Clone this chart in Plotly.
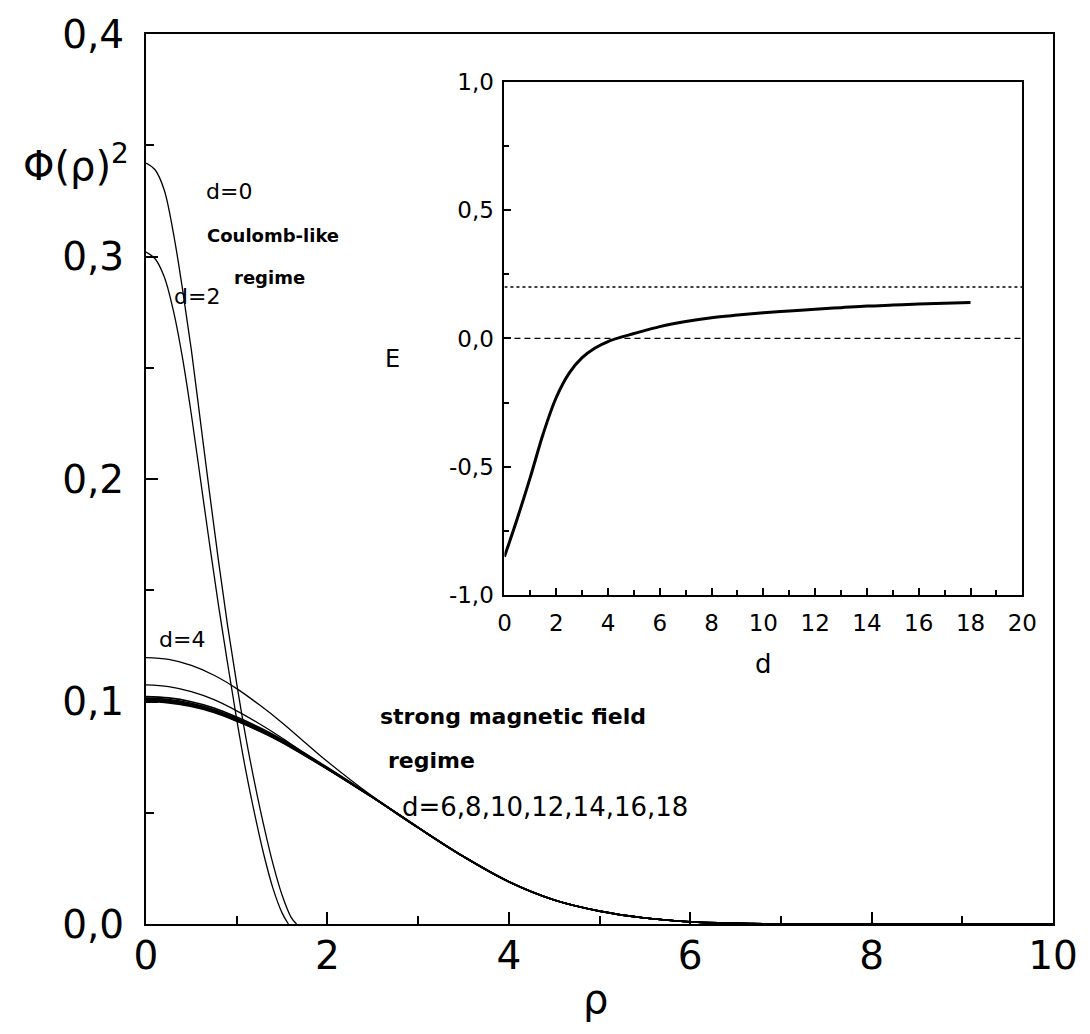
import plotly.graph_objects as go

# ---------------- data ----------------
# Coulomb-like regime curves
rho_d0 = [0, 0.1, 0.2, 0.3, 0.4, 0.5, 0.6, 0.7, 0.8, 0.9, 1.0, 1.1, 1.2, 1.3, 1.4, 1.5, 1.6, 1.66]
phi_d0 = [0.342, 0.339, 0.330, 0.311, 0.286, 0.258, 0.226, 0.194, 0.163, 0.134, 0.108, 0.084, 0.063, 0.044, 0.027, 0.013, 0.003, 0.0]

rho_d2 = [0, 0.1, 0.2, 0.3, 0.4, 0.5, 0.6, 0.7, 0.8, 0.9, 1.0, 1.1, 1.2, 1.3, 1.4, 1.5, 1.57]
phi_d2 = [0.302, 0.299, 0.291, 0.276, 0.255, 0.229, 0.200, 0.171, 0.143, 0.117, 0.092, 0.069, 0.049, 0.031, 0.016, 0.005, 0.0]

# strong magnetic field regime curves
rho_s = [0, 0.25, 0.5, 0.75, 1.0, 1.25, 1.5, 1.75, 2.0, 2.5, 3.0, 3.5, 4.0, 4.5, 5.0, 5.5, 6.0, 6.5, 7.0, 8.0, 10.0]
phi_d4 = [0.1197, 0.1189, 0.1162, 0.1118, 0.1058, 0.0985, 0.0905, 0.0817, 0.0730, 0.0573, 0.0434,
          0.0303, 0.0190, 0.0108, 0.0058, 0.0027, 0.0010, 0.0003, 0.0, 0.0, 0.0]
phi_d6 = [0.1075, 0.1067, 0.1044, 0.1008, 0.0958, 0.0900, 0.0836, 0.0766, 0.0699, 0.0569, 0.0434,
          0.0303, 0.0190, 0.0108, 0.0058, 0.0027, 0.0010, 0.0003, 0.0, 0.0, 0.0]
phi_d8 = [0.1022, 0.1016, 0.0999, 0.0971, 0.0930, 0.0883, 0.0829, 0.0767, 0.0703, 0.0571, 0.0434,
          0.0303, 0.0190, 0.0108, 0.0058, 0.0027, 0.0010, 0.0003, 0.0, 0.0, 0.0]
phi_d10 = [0.1015, 0.1009, 0.0992, 0.0964, 0.0924, 0.0878, 0.0825, 0.0764, 0.0701, 0.0570, 0.0434,
           0.0303, 0.0190, 0.0108, 0.0058, 0.0027, 0.0010, 0.0003, 0.0, 0.0, 0.0]
phi_d12 = [0.1010, 0.1004, 0.0987, 0.0960, 0.0920, 0.0874, 0.0822, 0.0762, 0.0699, 0.0569, 0.0433,
           0.0303, 0.0190, 0.0108, 0.0058, 0.0027, 0.0010, 0.0003, 0.0, 0.0, 0.0]
phi_d14 = [0.1006, 0.1000, 0.0983, 0.0956, 0.0917, 0.0871, 0.0820, 0.0760, 0.0698, 0.0569, 0.0433,
           0.0303, 0.0190, 0.0108, 0.0058, 0.0027, 0.0010, 0.0003, 0.0, 0.0, 0.0]
phi_d16 = [0.1003, 0.0997, 0.0981, 0.0954, 0.0914, 0.0869, 0.0818, 0.0758, 0.0697, 0.0568, 0.0433,
           0.0303, 0.0190, 0.0108, 0.0058, 0.0027, 0.0010, 0.0003, 0.0, 0.0, 0.0]
phi_d18 = [0.1000, 0.0994, 0.0978, 0.0951, 0.0912, 0.0867, 0.0816, 0.0757, 0.0696, 0.0568, 0.0433,
           0.0303, 0.0190, 0.0108, 0.0058, 0.0027, 0.0010, 0.0003, 0.0, 0.0, 0.0]

# inset: energy E vs d
d_vals = [0, 0.5, 1, 1.5, 2, 2.5, 3, 3.5, 4, 4.5, 5, 6, 7, 8, 9, 10, 11, 12, 13, 14, 15, 16, 17, 18]
E_vals = [-0.85, -0.70, -0.54, -0.37, -0.23, -0.135, -0.075, -0.037, -0.012, 0.005, 0.019, 0.046, 0.066, 0.081,
          0.091, 0.100, 0.107, 0.114, 0.120, 0.126, 0.130, 0.134, 0.137, 0.140]
E_dotted = 0.2
E_dashed = 0.0
d_range = [0, 20]

# tick labels
main_x_ticks = [0, 2, 4, 6, 8, 10]
main_x_text = ["0", "2", "4", "6", "8", "10"]
main_y_ticks = [0.0, 0.1, 0.2, 0.3, 0.4]
main_y_text = ["0,0", "0,1", "0,2", "0,3", "0,4"]
ins_x_ticks = [0, 2, 4, 6, 8, 10, 12, 14, 16, 18, 20]
ins_x_text = ["0", "2", "4", "6", "8", "10", "12", "14", "16", "18", "20"]
ins_y_ticks = [-1.0, -0.5, 0.0, 0.5, 1.0]
ins_y_text = ["-1,0", "-0,5", "0,0", "0,5", "1,0"]

# ---------------- figure ----------------
FONT = "DejaVu Sans, Arial, sans-serif"
W, H = 1090, 1034
L, R, T, B = 146, 28, 28, 110
PW, PH = W - L - R, H - T - B

def px(x):
    return (x - L) / PW

def py(y):
    return (H - B - y) / PH

fig = go.Figure()

line_thin = dict(color="black", width=1.3)
line_cluster = dict(color="black", width=1.7)
fig.add_trace(go.Scatter(x=rho_d0, y=phi_d0, mode="lines", line=dict(line_thin, shape="spline"), showlegend=False))
fig.add_trace(go.Scatter(x=rho_d2, y=phi_d2, mode="lines", line=dict(line_thin, shape="spline"), showlegend=False))
for arr in [phi_d4, phi_d6]:
    fig.add_trace(go.Scatter(x=rho_s, y=arr, mode="lines", line=dict(line_thin, shape="spline"), showlegend=False))
for arr in [phi_d8, phi_d10, phi_d12, phi_d14, phi_d16, phi_d18]:
    fig.add_trace(go.Scatter(x=rho_s, y=arr, mode="lines", line=dict(line_cluster, shape="spline"), showlegend=False))

# inset traces
fig.add_trace(go.Scatter(x=d_range, y=[E_dotted, E_dotted], mode="lines", xaxis="x2", yaxis="y2",
                         line=dict(color="black", width=1.5, dash="dot"), showlegend=False))
fig.add_trace(go.Scatter(x=d_range, y=[E_dashed, E_dashed], mode="lines", xaxis="x2", yaxis="y2",
                         line=dict(color="black", width=1.3, dash="6px,4px"), showlegend=False))
fig.add_trace(go.Scatter(x=d_vals, y=E_vals, mode="lines", xaxis="x2", yaxis="y2",
                         line=dict(color="black", width=3, shape="spline"), showlegend=False))

axis_common = dict(showline=True, linecolor="black", linewidth=2, mirror=True, showgrid=False,
                   zeroline=False, ticks="inside", tickcolor="black", tickwidth=1.5)

fig.update_layout(
    width=W, height=H,
    margin=dict(l=L, r=R, t=T, b=B),
    paper_bgcolor="white", plot_bgcolor="white",
    font=dict(family=FONT, color="black"),
    xaxis=dict(axis_common, domain=[0, 1], range=[0, 10], tickmode="array", tickvals=main_x_ticks,
               ticktext=main_x_text, ticklen=12, tickfont=dict(size=39, family=FONT, color="black"),
               ticklabelstandoff=-4,
               minor=dict(ticks="inside", tickvals=[1, 3, 5, 7, 9], ticklen=8, tickcolor="black", tickwidth=1.5)),
    yaxis=dict(axis_common, domain=[0, 1], range=[0, 0.4], tickmode="array", tickvals=main_y_ticks,
               ticktext=main_y_text, ticklen=12, tickfont=dict(size=39, family=FONT, color="black"),
               ticklabelstandoff=12,
               minor=dict(ticks="inside", tickvals=[0.05, 0.15, 0.25, 0.35], ticklen=8, tickcolor="black", tickwidth=1.5)),
    xaxis2=dict(axis_common, domain=[px(508), px(1031)], range=[0, 20], anchor="y2", tickmode="array",
                tickvals=ins_x_ticks, ticktext=ins_x_text, ticklen=7,
                tickfont=dict(size=23, family=FONT, color="black"), ticklabelstandoff=6,
                minor=dict(ticks="inside", tickvals=[1, 3, 5, 7, 9, 11, 13, 15, 17, 19], ticklen=5,
                           tickcolor="black", tickwidth=1.5)),
    yaxis2=dict(axis_common, domain=[py(593), py(76)], range=[-1, 1], anchor="x2", tickmode="array",
                tickvals=ins_y_ticks, ticktext=ins_y_text, ticklen=7,
                tickfont=dict(size=23, family=FONT, color="black"), ticklabelstandoff=4,
                minor=dict(ticks="inside", tickvals=[-0.75, -0.25, 0.25, 0.75], ticklen=5,
                           tickcolor="black", tickwidth=1.5)),
)

def ann(text, x, y, size, xanchor="left", bold=False):
    if bold:
        text = "<b>" + text + "</b>"
    fig.add_annotation(text=text, x=px(x), y=py(y), xref="paper", yref="paper", showarrow=False,
                       xanchor=xanchor, yanchor="middle", font=dict(size=size, family=FONT, color="black"))

ann("Φ(ρ)<sup>2</sup>", 20, 158, 40)
ann("ρ", 600, 1000, 40, xanchor="center")
ann("d=0", 205, 187, 22)
ann("Coulomb-like", 206, 231, 18, bold=True)
ann("regime", 233, 273, 18, bold=True)
ann("d=2", 172, 292, 22)
ann("d=4", 157, 638, 22)
ann("strong magnetic field", 380, 715, 22, bold=True)
ann("regime", 388, 759, 22, bold=True)
ann("d=6,8,10,12,14,16,18", 403, 806, 26)
ann("E", 395, 355, 24, xanchor="center")
ann("d", 770, 662, 26, xanchor="center")

fig.write_html("out.html", config={"displayModeBar": False},
               post_script="document.body.style.margin='0';")
